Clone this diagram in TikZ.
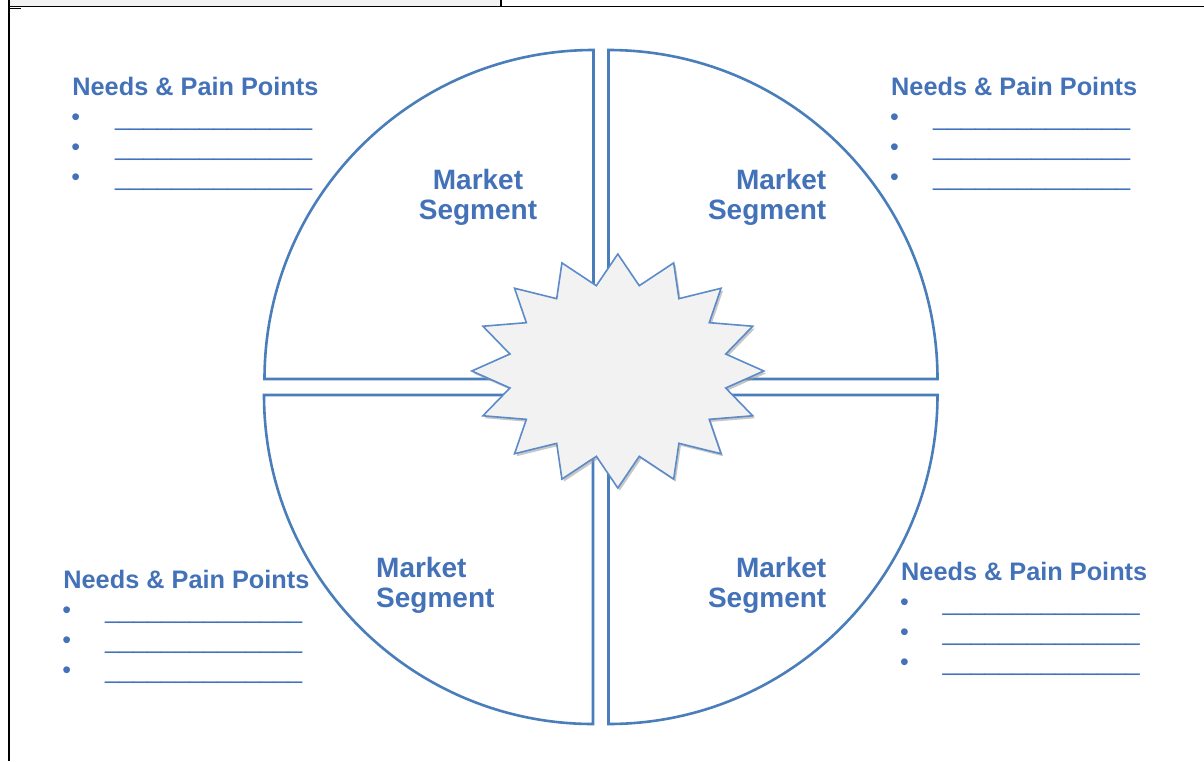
\documentclass[tikz,border=0pt]{standalone}
\usepackage{fontspec}
\setmainfont{Liberation Sans}
\definecolor{segline}{HTML}{4A7EBB}
\definecolor{segtext}{HTML}{4472B8}
\definecolor{starline}{HTML}{5B8BC8}
\definecolor{starfill}{HTML}{F2F2F2}
\definecolor{stripfill}{HTML}{F2F2F2}
\newcommand{\needsblock}[4]{%
  \node[needhead] (#4h) at ({#1+1},#2) {Needs \& Pain Points};
  \foreach \k in {1,2,3} {
    \node[bul] (#4b\k) at (#1,{#2+30*\k}) {•};
    \node[blank] (#4l\k) at (#3,{#2+30*\k}) {\_\_\_\_\_\_\_\_\_\_\_\_\_\_};
  }
}
\def\starburst{(617.8,254) \foreach \k in {0,...,15} { -- ({617.8+110*cos(78.75-22.5*\k)}, {371-87*sin(78.75-22.5*\k)}) -- ({617.8+146*cos(67.5-22.5*\k)}, {371-117*sin(67.5-22.5*\k)}) } -- cycle}
\begin{document}
\begin{tikzpicture}[x=1pt,y=-1pt,
  quad/.style={draw=segline, line width=2.6pt, line join=miter, fill=white},
  segtxt/.style={inner sep=0pt, text=segtext, font=\fontsize{28}{30}\bfseries\selectfont},
  needhead/.style={inner sep=0pt, anchor=base west, text=segtext, font=\fontsize{25.3}{30}\bfseries\selectfont},
  bul/.style={inner sep=0pt, anchor=base west, text=segtext, font=\fontsize{25}{30}\selectfont},
  blank/.style={inner sep=0pt, anchor=base west, text=segtext, font=\fontsize{25.3}{30}\selectfont},
  frameline/.style={draw=black},
]
\useasboundingbox (0,0) rectangle (1204,761);
% frame
\fill[stripfill] (9,0) rectangle (501,6);
\draw[frameline, line width=1.5pt] (8,6.3) -- (1204,6.3);
\draw[frameline, line width=2pt] (9,0) -- (9,761);
\draw[frameline, line width=1.3pt] (501,0) -- (501,6.3);
\draw[frameline, line width=1pt] (10,8) -- (21,8);
% quadrants
\draw[quad] (593.5,379) -- (264.5,379) arc[start angle=180,end angle=90,radius=329pt] -- cycle;
\draw[quad] (608.5,379) -- (608.5,50) arc[start angle=90,end angle=0,radius=329pt] -- cycle;
\draw[quad] (593,395) -- (264,395) arc[start angle=180,end angle=270,radius=329pt] -- cycle;
\draw[quad] (608.5,395) -- (937.5,395) arc[start angle=0,end angle=-90,radius=329pt] -- cycle;
% starburst
\coordinate (burst) at (617.8,371);
\begin{scope}[shift={(2,2.5)}]
  \fill[black!40, opacity=0.55] \starburst;
\end{scope}
\filldraw[fill=starfill, draw=starline, line width=1.6pt, line join=miter] \starburst;
% segment labels
\node[segtxt, anchor=base] (s1a) at (478,189.3) {Market};
\node[segtxt, anchor=base] (s1b) at (478,219.3) {Segment};
\node[segtxt, anchor=base east] (s2a) at (826.5,189.3) {Market};
\node[segtxt, anchor=base east] (s2b) at (826.5,219.3) {Segment};
\node[segtxt, anchor=base west] (s3a) at (376,577.7) {Market};
\node[segtxt, anchor=base west] (s3b) at (376,607.7) {Segment};
\node[segtxt, anchor=base east] (s4a) at (826.5,577.7) {Market};
\node[segtxt, anchor=base east] (s4b) at (826.5,607.7) {Segment};
% needs blocks
\needsblock{71.2}{95}{115}{tl}
\needsblock{890}{95}{933}{tr}
\needsblock{62.2}{588}{105}{bl}
\needsblock{900}{580.5}{942.5}{br}
\end{tikzpicture}
\end{document}
